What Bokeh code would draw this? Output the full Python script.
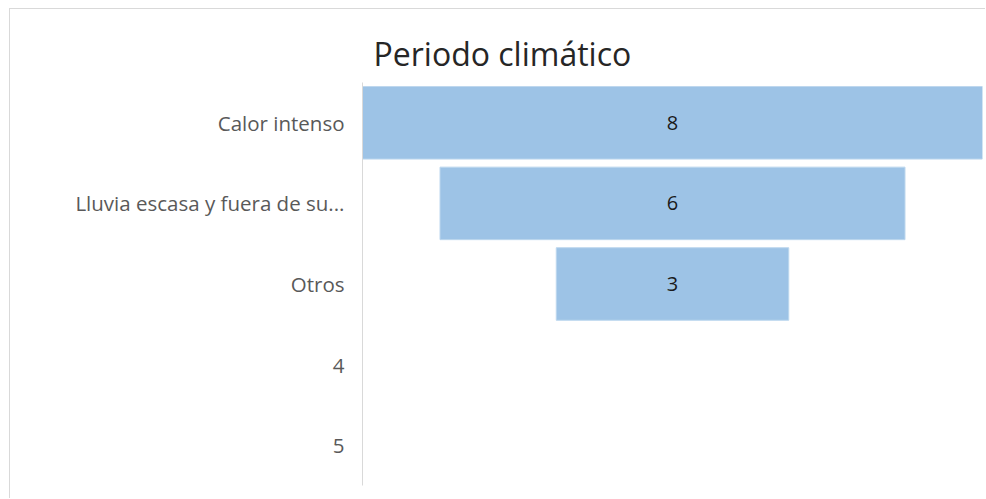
from bokeh.plotting import figure
from bokeh.models import FactorRange, Range1d, ColumnDataSource, LabelSet, Title
from bokeh.core.properties import value
from bokeh.embed import file_html
from bokeh.resources import INLINE

categories = ["Calor intenso", "Lluvia escasa y fuera de su...", "Otros", "4", "5"]
bar_categories = ["Calor intenso", "Lluvia escasa y fuera de su...", "Otros"]
values = [8, 6, 3]
title_text = "Periodo climático"

max_v = max(values)
src = ColumnDataSource(dict(
    cat=bar_categories,
    left=[-v / 2 for v in values],
    right=[v / 2 for v in values],
    mid=[0] * len(values),
    lab=[str(v) for v in values],
))

p = figure(
    width=976, height=490,
    y_range=FactorRange(*reversed(categories)),
    x_range=Range1d(-max_v / 2, max_v / 2),
    output_backend="svg", toolbar_location=None,
    min_border_left=352, min_border_right=4, min_border_top=73, min_border_bottom=14,
)
p.margin = (8, 0, 0, 9)
t = Title(text=title_text, align="left", offset=11, text_font="Open Sans",
          text_font_size="32px", text_font_style="normal", text_color="#262626",
          standoff=16)
p.add_layout(t, "above")

p.hbar(y="cat", left="left", right="right", height=0.9, source=src,
       fill_color="#9DC3E6", line_color="#BDD7EE", line_width=1)

labels = LabelSet(x="mid", y="cat", text="lab", source=src,
                  text_align="center", text_baseline="middle",
                  text_font=value("Open Sans"), text_font_size="20px", text_color="#1a1a1a")
p.add_layout(labels)

p.xaxis.visible = False
p.xgrid.visible = False
p.ygrid.visible = False
p.outline_line_color = None

ax = p.yaxis[0]
ax.axis_line_color = "#d9d9d9"
ax.axis_line_width = 1
ax.major_tick_line_color = None
ax.minor_tick_line_color = None
ax.major_tick_out = 0
ax.major_tick_in = 0
ax.major_label_standoff = 18
ax.major_label_text_font = "Open Sans"
ax.major_label_text_font_size = "20.5px"
ax.major_label_text_color = "#595959"

p.styles = {"border-left": "1px solid #d9d9d9", "border-top": "1px solid #d9d9d9"}

open("out.html", "w").write(file_html(p, INLINE))
